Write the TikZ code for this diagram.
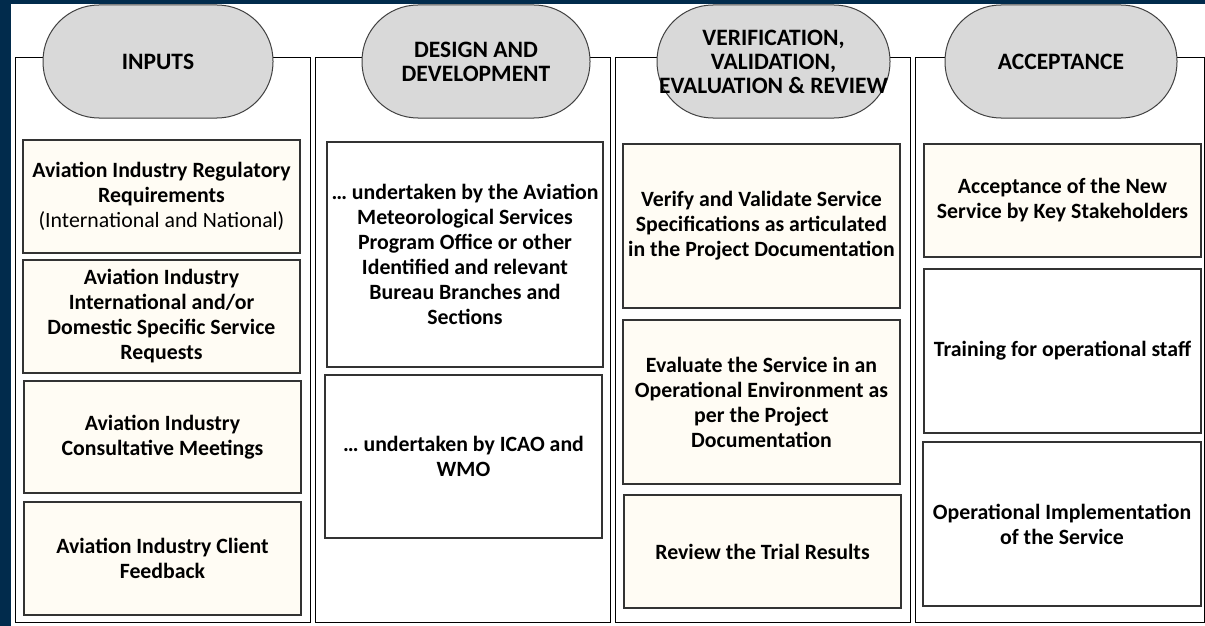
\documentclass[tikz,border=0pt]{standalone}
\usepackage{fontspec}
\setmainfont{Carlito}
\usetikzlibrary{positioning}
\definecolor{navy}{HTML}{012B4C}
\definecolor{cream}{HTML}{FFFCF4}
\definecolor{pillgray}{HTML}{D9D9D9}
\newcommand{\boxfont}{\fontsize{21.8}{25}\selectfont\bfseries}
\newcommand{\headfont}{\fontsize{23.5}{24}\selectfont\bfseries}
\tikzstyle{column}=[draw,line width=1pt,inner sep=0pt]
\tikzstyle{item}=[draw=black!80,line width=1.3pt,inner sep=0pt,align=center,font=\boxfont]
\tikzstyle{note}=[item,fill=cream]
\tikzstyle{pill}=[draw=black!75,line width=1pt,fill=pillgray,rounded corners=56pt,inner sep=0pt,align=center,font=\headfont]
% box from its left, top, right and bottom edge
\newcommand{\newBox}[7]{\node[#2,minimum width=#5-#3,minimum height=#6-#4] (#1) at ({(#3+#5)/2},{(#4+#6)/2}) {#7};}

\begin{document}
\begin{tikzpicture}[x=1pt,y=-1pt]
      \fill[navy] (0,0) rectangle (1205,626);
      \fill[white] (11,4) rectangle (1205,626);
      % columns
      \newBox{inputs}{column}{15}{58}{310}{622}{}
      \newBox{design}{column}{315}{58}{610}{622}{}
      \newBox{verify}{column}{615}{58}{910}{622}{}
      \newBox{accept}{column}{915}{58}{1204}{622}{}
      % headers
      \newBox{hInputs}{pill}{43}{5}{273}{118}{INPUTS}
      \newBox{hDesign}{pill}{362}{5}{590}{118}{DESIGN AND\\DEVELOPMENT}
      \newBox{hVerify}{pill}{657}{5}{890}{118}{VERIFICATION,\\VALIDATION,\\EVALUATION \& REVIEW}
      \newBox{hAccept}{pill}{945}{5}{1177}{118}{ACCEPTANCE}
      % inputs
      \newBox{regs}{note}{23}{140}{300}{253}{Aviation Industry Regulatory\\Requirements\\\mdseries(International and National)}
      \newBox{requests}{note}{23}{260}{300}{373}{Aviation Industry\\International and/or\\Domestic Specific Service\\Requests}
      \newBox{meetings}{note}{24}{381}{301}{493}{Aviation Industry\\Consultative Meetings}
      \newBox{feedback}{note}{24}{502}{301}{615}{Aviation Industry Client\\Feedback}
      % design and development
      \newBox{bureau}{item}{327}{142}{603}{367}{… undertaken by the Aviation\\Meteorological Services\\Program Office or other\\Identified and relevant\\Bureau Branches and\\Sections}
      \newBox{icao}{item}{325}{375}{602}{538}{… undertaken by ICAO and\\WMO}
      % verification
      \newBox{specs}{note}{623}{144}{900}{308}{Verify and Validate Service\\Specifications as articulated\\in the Project Documentation}
      \newBox{trial}{note}{623}{320}{900}{484}{Evaluate the Service in an\\Operational Environment as\\per the Project\\Documentation}
      \newBox{results}{note}{624}{495}{901}{608}{Review the Trial Results}
      % acceptance
      \newBox{stake}{note}{924}{144}{1201}{257}{Acceptance of the New\\Service by Key Stakeholders}
      \newBox{training}{item}{924}{269}{1201}{433}{Training for operational staff}
      \newBox{rollout}{item}{923}{442}{1201}{606}{Operational Implementation\\of the Service}
    \end{tikzpicture}
\end{document}
